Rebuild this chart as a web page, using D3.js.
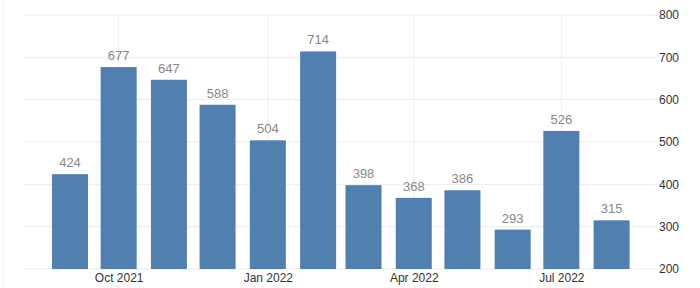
<!DOCTYPE html>
<html lang="en">
	<head>
		<meta charset="utf-8">
		<title>Monthly bars</title>
		<script type="text/javascript" src="https://cdn.jsdelivr.net/npm/d3@7"></script>
		<style type="text/css">
			body { margin: 0; background: #fff; }
			text { font-family: "Liberation Sans", Arial, sans-serif; }
		</style>
	</head>
	<body>
		<script type="text/javascript">

			// data
			var months = ["2021-09", "2021-10", "2021-11", "2021-12", "2022-01", "2022-02",
			              "2022-03", "2022-04", "2022-05", "2022-06", "2022-07", "2022-08"];
			var values = [424, 677, 647, 588, 504, 714, 398, 368, 386, 293, 526, 315];
			var yTicks = [200, 300, 400, 500, 600, 700, 800];
			var xTickMonths = ["2021-10", "2022-01", "2022-04", "2022-07"];

			var w = 700;
			var h = 288;

			var parse = d3.timeParse("%Y-%m");
			var dates = months.map(parse);

			var svg = d3.select("body")
						.append("svg")
						.attr("width", w)
						.attr("height", h);

			// faint frame line on the left
			svg.append("line")
				.attr("x1", 3).attr("x2", 3)
				.attr("y1", 0).attr("y2", h)
				.attr("stroke", "#f3f3f3");

			var x = d3.scaleTime()
				.domain([d3.timeDay.offset(dates[0], -29), d3.timeDay.offset(dates[dates.length - 1], 28)])
				.range([23, 657]);

			var y = d3.scaleLinear()
				.domain([200, 800])
				.range([269, 15]);

			// horizontal grid
			svg.selectAll("line.hgrid")
				.data(yTicks)
				.enter()
				.append("line")
				.attr("class", "hgrid")
				.attr("x1", 23).attr("x2", 657)
				.attr("y1", function(d) { return y(d); })
				.attr("y2", function(d) { return y(d); })
				.attr("stroke", "#ececec");

			// vertical grid at labelled months
			svg.selectAll("line.vgrid")
				.data(xTickMonths.map(parse))
				.enter()
				.append("line")
				.attr("class", "vgrid")
				.attr("x1", function(d) { return x(d); })
				.attr("x2", function(d) { return x(d); })
				.attr("y1", 15).attr("y2", 269)
				.attr("stroke", "#ececec");

			// y axis (right)
			var yAxis = d3.axisRight(y).tickValues(yTicks).tickSize(0).tickPadding(0);
			var gy = svg.append("g")
				.attr("transform", "translate(659,0)")
				.call(yAxis);
			gy.select(".domain").remove();
			gy.selectAll("text")
				.attr("fill", "#333")
				.style("font-size", "12px")
				.style("font-family", "'Liberation Sans', Arial, sans-serif");

			// x axis
			var xAxis = d3.axisBottom(x)
				.tickValues(xTickMonths.map(parse))
				.tickFormat(d3.timeFormat("%b %Y"))
				.tickSize(0)
				.tickPadding(0);
			var gx = svg.append("g")
				.attr("transform", "translate(0,273)")
				.call(xAxis);
			gx.select(".domain").remove();
			gx.selectAll("text")
				.attr("fill", "#333")
				.style("font-size", "12px")
				.style("font-family", "'Liberation Sans', Arial, sans-serif");

			var barW = 36;

			// bars
			svg.selectAll("rect.bar")
				.data(values)
				.enter()
				.append("rect")
				.attr("class", "bar")
				.attr("x", function(d, i) { return x(dates[i]) - barW / 2; })
				.attr("y", function(d) { return y(d); })
				.attr("width", barW)
				.attr("height", function(d) { return y(200) - y(d); })
				.attr("fill", "#517fb0");

			// value labels
			svg.selectAll("text.val")
				.data(values)
				.enter()
				.append("text")
				.attr("class", "val")
				.attr("x", function(d, i) { return x(dates[i]); })
				.attr("y", function(d) { return y(d) - 7; })
				.attr("text-anchor", "middle")
				.attr("fill", "#888")
				.style("font-size", "13px")
				.text(function(d) { return d; });

		</script>
	</body>
</html>
